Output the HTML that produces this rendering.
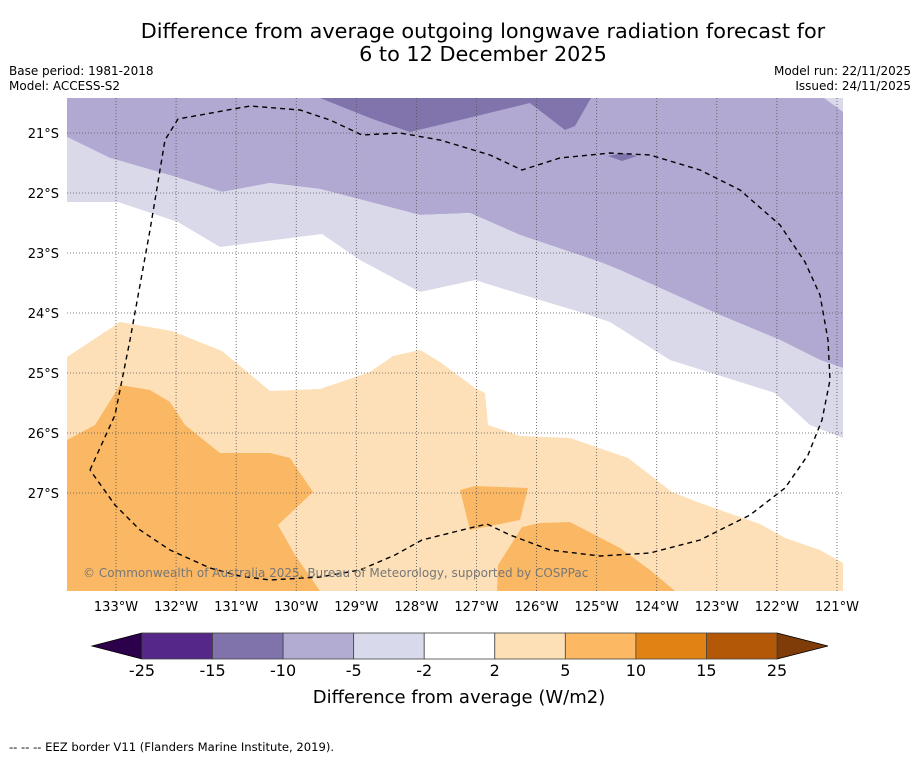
<!DOCTYPE html>
<html><head><meta charset="utf-8"><style>
body{margin:0;background:#fff;font-family:"Liberation Sans","DejaVu Sans",sans-serif}
svg text{font-family:"DejaVu Sans","Liberation Sans",sans-serif}
</style></head><body>
<svg id="c" width="919" height="758" viewBox="0 0 919 758" xmlns="http://www.w3.org/2000/svg">
<rect width="919" height="758" fill="#fff"/>
<text x="483" y="38" font-size="20.8" text-anchor="middle">Difference from average outgoing longwave radiation forecast for</text>
<text x="483" y="61" font-size="20.8" text-anchor="middle">6 to 12 December 2025</text>
<text x="9" y="75" font-size="12">Base period: 1981-2018</text>
<text x="9" y="90" font-size="12">Model: ACCESS-S2</text>
<text x="911" y="75" font-size="12" text-anchor="end">Model run: 22/11/2025</text>
<text x="911" y="90" font-size="12" text-anchor="end">Issued: 24/11/2025</text>
<g id="map"></g>
<g id="cb"></g>
<text x="459" y="703" font-size="18" text-anchor="middle">Difference from average (W/m2)</text>
<text x="9" y="751" font-size="11.6">--  --  -- EEZ border V11 (Flanders Marine Institute, 2019).</text>
</svg>
<script>
const lonTicks=[133,132,131,130,129,128,127,126,125,124,123,122,121];
const latTicks=[21,22,23,24,25,26,27];
const levels=[-25,-15,-10,-5,-2,2,5,10,15,25];
const levelColors=['#542788','#8073ac','#b2abd2','#d8daeb','#ffffff','#fee0b6','#fdb863','#e08214','#b35806'];
const underColor='#2d004b', overColor='#7f3b08';
// contour regions (map pixel shapes)
const lightPurple=[[67,98],[843,98],[843,368],[820,360],[780,340],[720,315],[620,270],[600,262],[520,235],[470,213],[420,215],[320,189],[270,183],[222,192],[176,177],[110,158],[67,137]];
const palePurple=[[67,137],[110,158],[176,177],[222,192],[270,183],[320,189],[420,215],[470,213],[520,235],[600,262],[620,270],[720,315],[780,340],[820,360],[843,368],[843,438],[810,425],[775,393],[670,360],[610,322],[580,312],[520,294],[475,280],[420,292],[360,260],[322,234],[220,247],[178,222],[118,202],[67,202]];
const cornerPale=[[824,98],[843,98],[843,112]];
const darkPurple=[[320,98],[370,118],[410,132],[460,120],[530,103],[565,130],[575,126],[591,98]];
const darkPatch=[[608,156],[622,161],[637,156],[622,153]];
const orange1=[[67,357],[120,322],[172,331],[222,351],[270,391],[320,389],[370,372],[393,356],[420,350],[440,362],[475,388],[485,393],[488,425],[520,436],[570,438],[628,458],[672,492],[700,503],[760,524],[785,538],[820,550],[843,563],[843,591],[67,591]];
const orange2a=[[67,440],[95,425],[120,385],[150,390],[170,402],[185,425],[220,453],[270,453],[290,458],[313,492],[278,525],[295,555],[320,591],[67,591]];
const orange2b=[[460,490],[475,486],[528,488],[520,520],[470,530]];
const orange2c=[[497,591],[498,565],[522,527],[540,523],[570,522],[620,548],[650,570],[675,591]];
const eez=[[90,470],[115,415],[130,340],[150,230],[165,140],[178,119],[250,106],[300,110],[330,120],[362,135],[400,133],[440,140],[490,155],[522,170],[560,158],[610,153],[650,155],[700,170],[740,190],[780,225],[805,262],[820,295],[828,340],[830,380],[822,420],[808,455],[785,488],[750,515],[700,540],[650,553],[600,556],[550,550],[510,535],[487,524],[470,528],[422,540],[395,555],[360,570],[320,577],[270,580],[240,576],[210,568],[170,550],[140,530],[115,505],[90,470]];
const NS='http://www.w3.org/2000/svg';
const X0=67,X1=843,Y0=98,Y1=591;
const xLon=w=>116+(133-w)*60.08;
const yLat=l=>133+(l-21)*60;
function mk(t,a,p){const e=document.createElementNS(NS,t);for(const k in a)e.setAttribute(k,a[k]);p.appendChild(e);return e;}
const map=document.getElementById('map');
const defs=mk('defs',{},map);const cp=mk('clipPath',{id:'clip'},defs);mk('rect',{x:X0,y:Y0,width:X1-X0,height:Y1-Y0},cp);
const g=mk('g',{'clip-path':'url(#clip)'},map);
let r=mk('rect',{x:X0,y:Y0,width:X1-X0,height:Y1-Y0,fill:'#fff'},g);


function poly(pts,fill,name){const p=mk('polygon',{points:pts.map(q=>q.join(',')).join(' '),fill:fill},g);

}
poly(lightPurple,'#b1a9d1','contour-minus10-to-minus5');
poly(palePurple,'#d9d9ea','contour-minus5-to-minus2');
poly(cornerPale,'#d9d9ea','contour-minus5-corner');
poly(darkPurple,'#8173ac','contour-minus15-to-minus10');
poly(darkPatch,'#8173ac','contour-minus15-patch');
poly(orange1,'#fde0b7','contour-2-to-5');
poly(orange2a,'#fbb864','contour-5-to-10-west');
poly(orange2b,'#fbb864','contour-5-to-10-patch');
poly(orange2c,'#fbb864','contour-5-to-10-south');
lonTicks.forEach(w=>{const x=xLon(w);
let l=mk('line',{x1:x,x2:x,y1:Y0,y2:Y1,stroke:'#555','stroke-width':0.8,'stroke-dasharray':'1,2'},g);


let t=mk('text',{x:x,y:611,'font-size':13,'text-anchor':'middle'},map);t.textContent=w+'°W';

});
latTicks.forEach(l=>{const y=yLat(l);
let ln=mk('line',{x1:X0,x2:X1,y1:y,y2:y,stroke:'#555','stroke-width':0.8,'stroke-dasharray':'1,2'},g);


let t=mk('text',{x:59,y:y+5,'font-size':13,'text-anchor':'end'},map);t.textContent=l+'°S';

});
let e=mk('polyline',{points:eez.map(q=>q.join(',')).join(' '),fill:'none',stroke:'#000','stroke-width':1.4,'stroke-dasharray':'5,4'},g);


let cr=mk('text',{x:83,y:577,'font-size':12,fill:'#777'},map);cr.textContent='© Commonwealth of Australia 2025, Bureau of Meteorology, supported by COSPPac';


// colorbar
const cb=document.getElementById('cb');
const CB0=142,CB1=777,CBY=633,CBH=26,n=levelColors.length,sw=(CB1-CB0)/n;
let ua=mk('polygon',{points:`${CB0},${CBY} 92,${CBY+CBH/2} ${CB0},${CBY+CBH}`,fill:underColor,stroke:'#000','stroke-width':0.8},cb);


let oa=mk('polygon',{points:`${CB1},${CBY} 828,${CBY+CBH/2} ${CB1},${CBY+CBH}`,fill:overColor,stroke:'#000','stroke-width':0.8},cb);


levelColors.forEach((c,i)=>{let s=mk('rect',{x:CB0+i*sw,y:CBY,width:sw,height:CBH,fill:c,stroke:'#444','stroke-width':0.8},cb);

});
levels.forEach((v,i)=>{let t=mk('text',{x:CB0+i*sw,y:676,'font-size':16,'text-anchor':'middle'},cb);t.textContent=v;

});
</script>
</body></html>
